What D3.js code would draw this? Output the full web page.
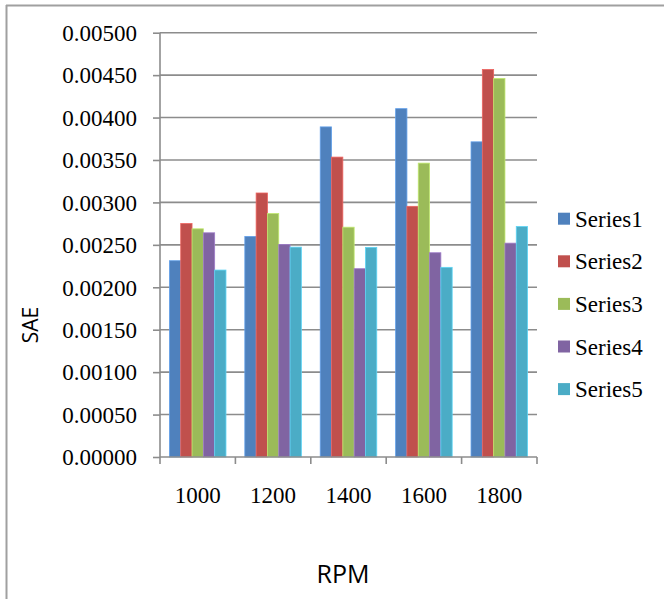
<!DOCTYPE html>
<html><head><meta charset="utf-8">
<script src="https://cdn.jsdelivr.net/npm/d3@7"></script>
<style>html,body{margin:0;padding:0;background:#fff;}svg{display:block;}
.serif{font-family:"Liberation Serif","Tinos","DejaVu Serif","Noto Serif","Times New Roman",Times,serif;}
.sans{font-family:"Open Sans","Noto Sans",sans-serif;}
</style>
</head><body>
<svg id="c" width="664" height="599"></svg>
<script>
const categories = ["1000","1200","1400","1600","1800"];
const seriesNames = ["Series1","Series2","Series3","Series4","Series5"];
const series1 = [0.002313,0.002599,0.003890,0.004105,0.003714];
const series2 = [0.002751,0.003111,0.003534,0.002954,0.004567];
const series3 = [0.002689,0.002869,0.002708,0.003463,0.004461];
const series4 = [0.002642,0.002505,0.002219,0.002407,0.002520];
const series5 = [0.002203,0.002473,0.002470,0.002235,0.002716];
const yTicks = [0,0.0005,0.001,0.0015,0.002,0.0025,0.003,0.0035,0.004,0.0045,0.005];
const colors = ["#4F81BD","#C0504D","#9BBB59","#8064A2","#4BACC6"];
const allSeries = [series1,series2,series3,series4,series5];

const svg = d3.select("#c");
const L=160, R=537, T=32.7, B=457;
const x = d3.scaleBand().domain(categories).range([L,R]).paddingInner(0.25).paddingOuter(0.125);
const xs = d3.scaleBand().domain(seriesNames).range([0,x.bandwidth()]).padding(0);
const y = d3.scaleLinear().domain([0,0.005]).range([B,T]);

svg.append("line").attr("x1",6).attr("x2",664).attr("y1",5.5).attr("y2",5.5).attr("stroke","#a0a0a0").attr("stroke-width",2);
svg.append("line").attr("x1",6.5).attr("x2",6.5).attr("y1",5).attr("y2",599).attr("stroke","#a0a0a0").attr("stroke-width",2);

svg.append("g").selectAll("line").data(yTicks.slice(1)).join("line")
  .attr("x1",L).attr("x2",R).attr("y1",d=>y(d)).attr("y2",d=>y(d))
  .attr("stroke","#8c8c8c").attr("stroke-width",1.6);

const rows = categories.map((c,i)=>({c, vals: allSeries.map((s,j)=>({name:seriesNames[j], v:s[i], col:colors[j]}))}));
svg.append("g").selectAll("g").data(rows).join("g")
  .attr("transform",d=>`translate(${x(d.c)},0)`)
  .selectAll("rect").data(d=>d.vals).join("rect")
  .attr("x",d=>xs(d.name)).attr("width",xs.bandwidth())
  .attr("y",d=>y(d.v)).attr("height",d=>B-y(d.v))
  .attr("fill",d=>d.col)
  .attr("stroke",d=>d3.color(d.col).brighter(0.6)).attr("stroke-width",0.8);

const yAxis = d3.axisLeft(y).tickValues(yTicks).tickFormat(d3.format(".5f")).tickSize(7).tickPadding(16);
const ga = svg.append("g").attr("transform",`translate(${L},0)`).call(yAxis);
ga.attr("font-family",null).attr("font-size",null).attr("class","serif");
ga.select(".domain").attr("stroke","#8c8c8c").attr("stroke-width",1.6).attr("d",`M0,${T}V${B}`);
ga.selectAll(".tick line").attr("stroke","#8c8c8c").attr("stroke-width",1.6);
ga.selectAll(".tick text").attr("class","serif").style("font-size","23px").attr("fill","#000").attr("dy","0.34em");

const xAxis = d3.axisBottom(x).tickSize(0).tickPadding(0);
const gx = svg.append("g").attr("transform",`translate(0,${B})`).call(xAxis);
gx.attr("font-family",null).attr("font-size",null).attr("class","serif");
gx.select(".domain").attr("stroke","#8c8c8c").attr("stroke-width",1.6).attr("d",`M${L},0H${R}`);
gx.selectAll(".tick text").attr("class","serif").style("font-size","23px").attr("fill","#000").attr("y",46).attr("dy",0);
const bounds = categories.map(c=>x(c)-x.step()*x.paddingInner()/2).concat([R]);
gx.append("g").selectAll("line").data(bounds).join("line")
  .attr("x1",d=>d).attr("x2",d=>d).attr("y1",0).attr("y2",7)
  .attr("stroke","#8c8c8c").attr("stroke-width",1.6);

svg.append("text").attr("class","sans").attr("x",343).attr("y",583).attr("text-anchor","middle")
  .style("font-size","25px").attr("fill","#000").text("RPM");
svg.append("text").attr("class","sans").attr("transform","translate(38,325) rotate(-90)").attr("text-anchor","middle")
  .style("font-size","21px").attr("fill","#000").text("SAE");

const lg = svg.append("g").selectAll("g").data(seriesNames).join("g")
  .attr("transform",(d,i)=>`translate(558,${212.7+42.6*i})`);
lg.append("rect").attr("width",12).attr("height",12).attr("fill",(d,i)=>colors[i]);
lg.append("text").attr("class","serif").attr("x",17).attr("y",14)
  .style("font-size","23px").attr("fill","#000").text(d=>d);
</script>
</body></html>
